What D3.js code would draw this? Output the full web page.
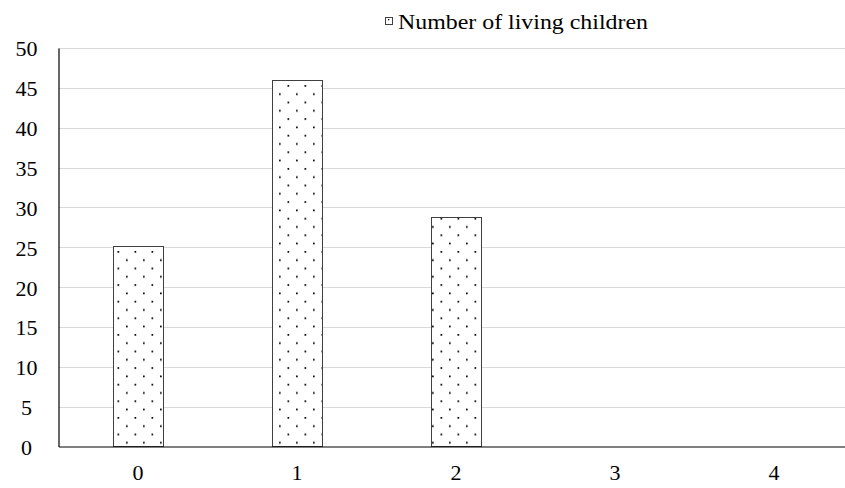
<!DOCTYPE html>
<html>
<head>
<meta charset="utf-8">
<script src="https://cdn.jsdelivr.net/npm/d3@7"></script>
</head>
<body style="margin:0;background:#fff">
<div id="container"></div>
<script>
// data (percent of respondents)
const categories = ["0", "1", "2", "3", "4"];
const values = [25.2, 46.0, 28.8, 0, 0];
const yTicks = [0, 5, 10, 15, 20, 25, 30, 35, 40, 45, 50];
const seriesName = "Number of living children";

const width = 845;
const height = 488;
const plotLeft = 58.5;
const plotTop = 48;
const plotBottom = 446.5;
const step = 159;
const serif = "'Liberation Serif'";

const svg = d3.select("div#container").append("svg")
    .attr("width", width)
    .attr("height", height)
    .style("display", "block");

// dotted fill like the original
const defs = svg.append("defs");
const pat = defs.append("pattern")
    .attr("id", "dots")
    .attr("patternUnits", "userSpaceOnUse")
    .attr("width", 17)
    .attr("height", 16.6)
    .attr("x", 113)
    .attr("y", 0);
pat.append("rect").attr("width", 17).attr("height", 16.6).attr("fill", "#fff");
pat.append("rect").attr("x", 4.5).attr("y", 2).attr("width", 1.7).attr("height", 1.7).attr("fill", "#000");
pat.append("rect").attr("x", 13).attr("y", 10.3).attr("width", 1.7).attr("height", 1.7).attr("fill", "#000");

const xScale = d3.scaleBand()
    .domain(categories)
    .range([plotLeft, plotLeft + step * categories.length])
    .paddingInner(109 / 159)
    .paddingOuter(109 / 159 / 2);

const yScale = d3.scaleLinear()
    .domain([0, 50])
    .range([plotBottom, plotTop]);

// gridlines
svg.append("g")
    .selectAll("line")
    .data(yTicks.filter(d => d > 0))
    .join("line")
    .attr("x1", plotLeft)
    .attr("x2", width)
    .attr("y1", d => Math.round(yScale(d)) + 0.5)
    .attr("y2", d => Math.round(yScale(d)) + 0.5)
    .attr("stroke", "#d9d9d9")
    .attr("stroke-width", 1);

// bars
svg.append("g")
    .selectAll("rect")
    .data(values.map((v, i) => ({cat: categories[i], v: v})).filter(d => d.v > 0))
    .join("rect")
    .attr("x", d => Math.round(xScale(d.cat)) + 0.5)
    .attr("y", d => Math.round(yScale(d.v)) + 0.5)
    .attr("width", xScale.bandwidth())
    .attr("height", d => plotBottom - Math.round(yScale(d.v)) - 0.5)
    .attr("fill", "url(#dots)")
    .attr("stroke", "#404040")
    .attr("stroke-width", 1);

// y axis
const yaxis = d3.axisLeft(yScale)
    .tickValues(yTicks)
    .tickSize(0);

const gy = svg.append("g")
    .attr("transform", "translate(" + plotLeft + ",0)")
    .call(yaxis);
gy.select(".domain").attr("stroke", "#000").attr("stroke-width", 1.2);
gy.selectAll("text")
    .style("font-family", serif)
    .style("font-size", "22px")
    .attr("fill", "#000")
    .attr("text-anchor", "middle")
    .attr("x", -32)
    .attr("dy", "0.36em");

// x axis
const xaxis = d3.axisBottom(xScale)
    .tickSize(0)
    .tickPadding(18);

const gx = svg.append("g")
    .attr("transform", "translate(0," + plotBottom + ")")
    .call(xaxis);
gx.select(".domain").attr("stroke", "#000").attr("stroke-width", 1.2);
gx.selectAll("text")
    .style("font-family", serif)
    .style("font-size", "22px")
    .attr("fill", "#000");

// legend
const legend = svg.append("g").attr("transform", "translate(385,17)");
legend.append("rect")
    .attr("x", 0.5).attr("y", 0.5)
    .attr("width", 7).attr("height", 7)
    .attr("fill", "#fff")
    .attr("stroke", "#404040");
legend.append("rect")
    .attr("x", 3).attr("y", 2)
    .attr("width", 1.3).attr("height", 1.3)
    .attr("fill", "#000");
legend.append("text")
    .attr("x", 13)
    .attr("y", 11.5)
    .attr("textLength", 250)
    .attr("lengthAdjust", "spacingAndGlyphs")
    .style("font-family", serif)
    .style("font-size", "22px")
    .attr("fill", "#000")
    .text(seriesName);
</script>
</body>
</html>
